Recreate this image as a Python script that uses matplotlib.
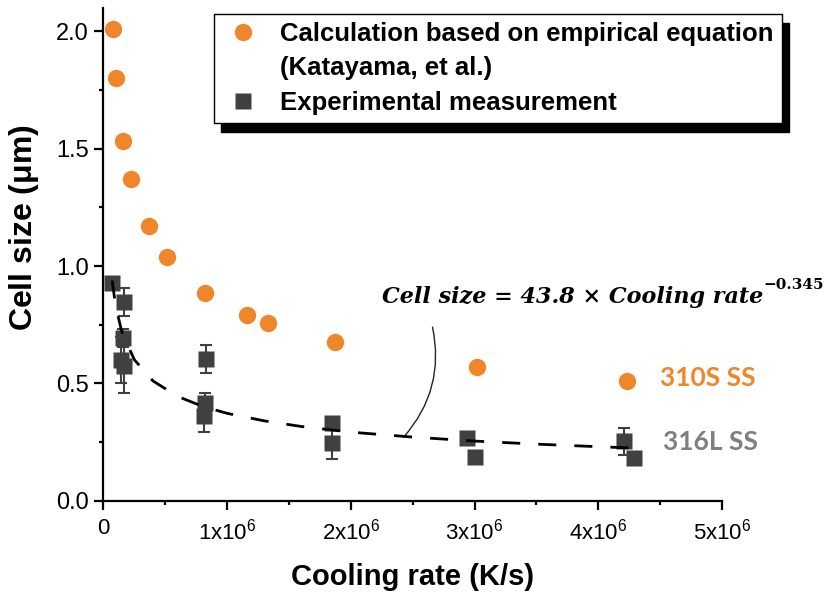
import matplotlib
matplotlib.use('Agg')
import matplotlib.pyplot as plt
from matplotlib.lines import Line2D
from matplotlib.patches import Rectangle
from matplotlib.ticker import MultipleLocator, FuncFormatter

plt.rcParams['font.family'] = ['Liberation Sans', 'DejaVu Sans']
plt.rcParams['mathtext.fontset'] = 'custom'
plt.rcParams['mathtext.rm'] = 'Liberation Sans'
plt.rcParams['mathtext.it'] = 'Liberation Sans:italic'
plt.rcParams['mathtext.bf'] = 'Liberation Sans:bold'
plt.rcParams['mathtext.default'] = 'regular'
plt.rcParams['lines.scale_dashes'] = False

# 310S SS - calculated from empirical equation (Katayama, et al.)
calc_rate = [0.077e6, 0.10e6, 0.16e6, 0.22e6, 0.37e6, 0.51e6,
             0.82e6, 1.16e6, 1.33e6, 1.87e6, 3.02e6, 4.23e6]
calc_size = [2.01, 1.80, 1.53, 1.37, 1.17, 1.04,
             0.885, 0.79, 0.757, 0.677, 0.57, 0.51]

# 316L SS - experimental measurement
exp_rate = [0.073e6, 0.165e6, 0.16e6, 0.14e6, 0.17e6,
            0.83e6, 0.82e6, 0.81e6, 1.85e6, 1.85e6,
            2.94e6, 3.0e6, 4.21e6, 4.285e6]
exp_size = [0.926, 0.847, 0.694, 0.60, 0.574,
            0.604, 0.417, 0.362, 0.33, 0.247,
            0.266, 0.187, 0.254, 0.183]
exp_err = [0.01, 0.058, 0.04, 0.097, 0.113,
           0.06, 0.044, 0.07, 0.02, 0.067,
           0.01, 0.01, 0.058, 0.01]

# fitted power law curve
fit_rate = [0.07e6, 0.10e6, 0.15e6, 0.25e6, 0.4e6, 0.6e6, 0.8e6, 1.0e6,
            1.3e6, 1.6e6, 2.0e6, 2.5e6, 3.0e6, 3.5e6, 4.0e6, 4.3e6]
fit_size = [0.938, 0.825, 0.717, 0.601, 0.511, 0.445, 0.403, 0.373,
            0.341, 0.317, 0.293, 0.272, 0.255, 0.242, 0.231, 0.225]

orange = '#F0862A'
grey = '#404040'

fig = plt.figure(figsize=(8.33, 6.01), dpi=100)
ax = fig.add_axes([0.1242, 0.1664, 0.7425, 0.8211])

ax.plot(calc_rate, calc_size, 'o', color=orange, ms=12.5, mec='none', zorder=3)
ax.errorbar(exp_rate, exp_size, yerr=exp_err, fmt='s', color=grey, ms=12,
            mec='none', ecolor=grey, elinewidth=1.5, capsize=4, capthick=1.5, zorder=2)
ax.plot(fit_rate, fit_size, color='black', lw=2.0, dashes=(13, 13), zorder=4)

ax.set_xlim(0, 5e6)
ax.set_ylim(0, 2.1)

for s in ['top', 'right']:
    ax.spines[s].set_visible(False)
for s in ['left', 'bottom']:
    ax.spines[s].set_linewidth(1.6)

ax.xaxis.set_major_locator(MultipleLocator(1e6))
ax.xaxis.set_minor_locator(MultipleLocator(0.5e6))
ax.yaxis.set_major_locator(MultipleLocator(0.5))
ax.yaxis.set_minor_locator(MultipleLocator(0.25))
ax.xaxis.set_major_formatter(FuncFormatter(
    lambda v, p: '0' if v == 0 else '%dx10$^{6}$' % round(v / 1e6)))
ax.yaxis.set_major_formatter(FuncFormatter(lambda v, p: '%.1f' % v))
ax.tick_params(which='major', direction='out', length=6.5, width=1.6)
ax.tick_params(which='minor', direction='out', length=3, width=1.6)
ax.tick_params(axis='x', labelsize=16, pad=6)
ax.tick_params(axis='y', labelsize=17, pad=4)

ax.set_xlabel('Cooling rate (K/s)', fontsize=21, fontweight='bold')
ax.set_ylabel(r'Cell size ($\mu$m)', fontsize=23, fontweight='bold')
ax.xaxis.set_label_coords(0.5, -0.125)
ax.yaxis.set_label_coords(-0.101, 0.553)

# equation + pointer
eq = ax.text(2.25e6, 0.868, 'Cell size = 43.8 \u00d7 Cooling rate', fontsize=16,
             family='DejaVu Serif', fontweight='bold', fontstyle='italic',
             va='center', ha='left')
ax.annotate('\u22120.345', xy=(1.0, 0.72), xycoords=eq, fontsize=11,
            family='DejaVu Serif', fontweight='bold', va='bottom', ha='left')
ax.annotate('', xy=(2.427e6, 0.272), xytext=(2.66e6, 0.74),
            arrowprops=dict(arrowstyle='-', connectionstyle='arc3,rad=-0.25',
                            lw=1.0, color='#222222', shrinkA=0, shrinkB=0))

ax.text(4.50e6, 0.523, '310S SS', color=orange, fontsize=19, family='Lato',
        fontweight='bold', va='center', ha='left')
ax.text(4.52e6, 0.251, '316L SS', color='#7F7F7F', fontsize=19, family='Lato',
        fontweight='bold', va='center', ha='left')

handles = [Line2D([], [], ls='none', marker='o', ms=12.5, color=orange, mec='none'),
           Line2D([], [], ls='none'),
           Line2D([], [], ls='none', marker='s', ms=12, color=grey, mec='none')]
labels = ['Calculation based on empirical equation', '(Katayama, et al.)',
          'Experimental measurement']
leg = ax.legend(handles, labels, loc='upper left',
                bbox_to_anchor=(214 / 833, 1 - 14 / 601),
                bbox_transform=fig.transFigure, borderaxespad=0,
                prop={'size': 18.5, 'weight': 'bold'}, frameon=True, fancybox=False,
                framealpha=1, edgecolor='black', handlelength=1.6,
                handletextpad=0.65, borderpad=0.33, labelspacing=0.39)
leg.get_frame().set_linewidth(1.0)
leg.set_zorder(5)

fig.canvas.draw()
bb = leg.get_frame().get_window_extent()
inv = fig.transFigure.inverted()
(x0, y0), (x1, y1) = inv.transform([(bb.x0 + 7, bb.y0 - 9), (bb.x1 + 7, bb.y1 - 9)])
ax.add_patch(Rectangle((x0, y0), x1 - x0, y1 - y0, transform=fig.transFigure,
                       color='black', clip_on=False, zorder=4.9))

fig.savefig('out.png', dpi=100)
